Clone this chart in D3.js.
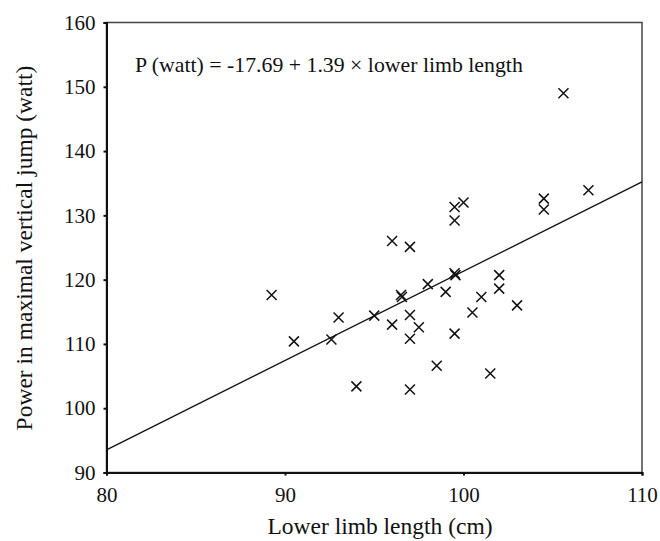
<!DOCTYPE html>
<html>
<head>
<meta charset="utf-8">
<script src="https://cdn.jsdelivr.net/npm/d3@7"></script>
<style>
  body { margin: 0; background: #fff; }
  svg { display: block; }
</style>
</head>
<body>
<svg id="chart"></svg>
<script>
const width = 660;
const height = 541;
const serif = "'Liberation Serif', 'DejaVu Serif', serif";

// Lower limb length (cm) and power (watt)
const limbLength = [89.25, 90.5, 92.6, 93.0, 94.0, 95.0, 96.0, 96.5, 96.55, 97.0, 97.5, 97.0, 97.0,
                    98.0, 99.0, 99.5, 99.55, 99.5, 98.5, 100.5, 101.0, 102.0, 102.0, 103.0, 101.5,
                    104.5, 104.5, 105.6, 107.0, 100.0, 99.5, 99.5, 96.0, 97.0];
const power = [117.6, 110.4, 110.7, 114.1, 103.4, 114.4, 113.0, 117.6, 117.3, 114.5, 112.6, 110.8, 102.9,
               119.3, 118.1, 121.0, 120.7, 111.6, 106.6, 114.9, 117.3, 120.7, 118.6, 116.0, 105.4,
               132.6, 130.9, 149.0, 133.9, 132.0, 131.3, 129.2, 126.0, 125.1];

const xTicks = [80, 90, 100, 110];
const yTicks = [90, 100, 110, 120, 130, 140, 150, 160];

// regression line P = a + b * length
const intercept = -17.69;
const slope = 1.39;

const margin = { top: 22.5, right: 18, bottom: 68.5, left: 106.5 };

const svg = d3.select("#chart")
  .attr("width", width)
  .attr("height", height);

const xScale = d3.scaleLinear()
  .domain([80, 110])
  .range([margin.left, width - margin.right]);

const yScale = d3.scaleLinear()
  .domain([90, 160])
  .range([height - margin.bottom, margin.top]);

// frame (top and right sides)
svg.append("rect")
  .attr("x", xScale(80))
  .attr("y", yScale(160))
  .attr("width", xScale(110) - xScale(80))
  .attr("height", yScale(90) - yScale(160))
  .attr("fill", "none")
  .attr("stroke", "#444")
  .attr("stroke-width", 1.5);

// axes
const xAxis = svg.append("g")
  .attr("transform", `translate(0, ${yScale(90)})`)
  .call(d3.axisBottom(xScale).tickValues(xTicks).tickSize(3).tickPadding(12));

const yAxis = svg.append("g")
  .attr("transform", `translate(${xScale(80)}, 0)`)
  .call(d3.axisLeft(yScale).tickValues(yTicks).tickSize(3).tickPadding(8));

[xAxis, yAxis].forEach(g => {
  g.select(".domain").attr("stroke", "#111").attr("stroke-width", 2);
  g.selectAll(".tick line").attr("stroke", "#111").attr("stroke-width", 2);
  g.selectAll(".tick text")
    .style("font-family", serif)
    .style("font-size", "21px")
    .attr("fill", "#111");
});

// regression line
svg.append("line")
  .attr("x1", xScale(80))
  .attr("y1", yScale(intercept + slope * 80))
  .attr("x2", xScale(110))
  .attr("y2", yScale(intercept + slope * 110))
  .attr("stroke", "#111")
  .attr("stroke-width", 1.3);

// data points as crosses
const data = limbLength.map((d, i) => ({ x: d, y: power[i] }));
const s = 5;
svg.append("g")
  .selectAll("path")
  .data(data)
  .enter()
  .append("path")
  .attr("d", d => {
    const cx = xScale(d.x), cy = yScale(d.y);
    return `M${cx - s},${cy - s}L${cx + s},${cy + s}M${cx - s},${cy + s}L${cx + s},${cy - s}`;
  })
  .attr("stroke", "#111")
  .attr("stroke-width", 1.5)
  .attr("fill", "none");

// equation
svg.append("text")
  .attr("x", 135)
  .attr("y", 72)
  .style("font-family", serif)
  .style("font-size", "21.8px")
  .attr("fill", "#111")
  .text("P (watt) = -17.69 + 1.39 \u00d7 lower limb length");

// axis titles
svg.append("text")
  .attr("x", 380)
  .attr("y", 534)
  .attr("text-anchor", "middle")
  .style("font-family", serif)
  .style("font-size", "23.5px")
  .attr("fill", "#111")
  .text("Lower limb length (cm)");

svg.append("text")
  .attr("transform", `translate(32, 248) rotate(-90)`)
  .attr("text-anchor", "middle")
  .style("font-family", serif)
  .style("font-size", "23.5px")
  .attr("fill", "#111")
  .text("Power in maximal vertical jump (watt)");
</script>
</body>
</html>
